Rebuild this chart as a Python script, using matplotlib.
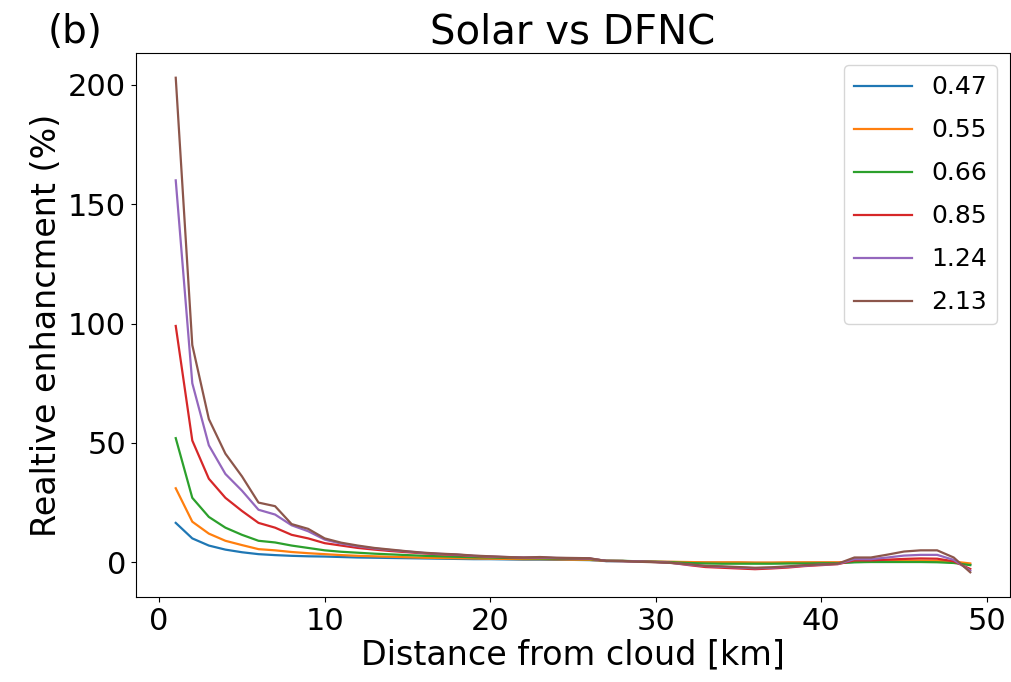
import numpy as np
import matplotlib
matplotlib.use("Agg")
import matplotlib.pyplot as plt

# distance from cloud [km]
distance = np.arange(1, 50)

wavelengths = ["0.47", "0.55", "0.66", "0.85", "1.24", "2.13"]

enh_047 = [16.5, 10, 7, 5.3, 4.2, 3.4, 3.0, 2.7, 2.5, 2.4,
           2.2, 2.0, 1.9, 1.8, 1.7, 1.6, 1.5, 1.4, 1.3, 1.3,
           1.2, 1.1, 1.1, 1.0, 1.0, 0.9, 0.5, 0.4, 0.3, 0.2,
           0.1, 0.0, -0.1, -0.2, -0.2, -0.3, -0.3, -0.3, -0.2, -0.2,
           -0.2, 0.1, 0.2, 0.3, 0.3, 0.4, 0.3, 0.0, -1.0]
enh_055 = [31, 17, 12, 9, 7.2, 5.5, 5.0, 4.3, 3.8, 3.4,
           3.0, 2.7, 2.5, 2.3, 2.1, 1.9, 1.8, 1.7, 1.6, 1.5,
           1.4, 1.3, 1.3, 1.2, 1.1, 1.0, 0.6, 0.5, 0.4, 0.3,
           0.2, 0.1, 0.0, 0.0, 0.0, -0.1, -0.1, 0.0, 0.0, 0.0,
           0.0, 0.3, 0.4, 0.5, 0.6, 0.7, 0.6, 0.3, -0.5]
enh_066 = [52, 27, 19, 14.5, 11.5, 9, 8.3, 7, 6, 5,
           4.4, 4.0, 3.6, 3.3, 3.0, 2.7, 2.5, 2.3, 2.1, 2.0,
           1.8, 1.7, 1.6, 1.5, 1.4, 1.3, 0.7, 0.6, 0.4, 0.2,
           0.0, -0.3, -0.5, -0.6, -0.6, -0.6, -0.6, -0.5, -0.5, -0.4,
           -0.4, 0.0, 0.1, 0.1, 0.1, 0.1, 0.0, -0.3, -1.2]
enh_085 = [99, 51, 35, 27, 21.5, 16.5, 14.5, 11.5, 10, 8,
           7, 6, 5.3, 4.7, 4.2, 3.7, 3.3, 3.0, 2.6, 2.3,
           2.1, 1.9, 1.9, 1.7, 1.6, 1.5, 0.6, 0.5, 0.3, 0.1,
           -0.3, -1.2, -2.0, -2.3, -2.6, -2.9, -2.6, -2.2, -1.6, -1.2,
           -0.8, 0.8, 0.8, 1.1, 1.4, 1.6, 1.5, 0.4, -2.8]
enh_124 = [160, 75, 49, 37, 30, 22, 20, 15.5, 13, 9.5,
           7.8, 6.7, 5.8, 5.1, 4.5, 3.9, 3.5, 3.2, 2.7, 2.4,
           2.2, 2.0, 2.0, 1.8, 1.7, 1.6, 0.6, 0.5, 0.3, 0.1,
           -0.3, -1.0, -1.6, -1.9, -2.2, -2.5, -2.3, -1.9, -1.4, -1.0,
           -0.7, 1.3, 1.3, 2.0, 2.8, 3.1, 3.1, 1.0, -3.5]
enh_213 = [203, 91, 60, 45.5, 36, 25, 23.5, 16, 14, 10,
           8.2, 7, 6, 5.3, 4.6, 4.0, 3.6, 3.3, 2.8, 2.5,
           2.2, 2.0, 2.2, 1.9, 1.8, 1.7, 0.5, 0.6, 0.2, 0.0,
           -0.3, -0.8, -1.5, -1.7, -2.0, -2.3, -2.1, -1.7, -1.2, -0.9,
           -0.6, 2.0, 2.0, 3.2, 4.5, 5.0, 5.0, 2.0, -4.2]

series = [enh_047, enh_055, enh_066, enh_085, enh_124, enh_213]

fig = plt.figure(figsize=(10.12, 6.82), dpi=100)
ax = fig.add_axes([0.1344, 0.1246, 0.8636, 0.7977])

for label, vals in zip(wavelengths, series):
    ax.plot(distance, vals, label=label, linewidth=1.6)

ax.set_title("Solar vs DFNC", fontsize=29)
ax.set_xlabel("Distance from cloud [km]", fontsize=24, labelpad=2)
ax.set_ylabel("Realtive enhancment (%)", fontsize=24)
ax.tick_params(labelsize=22)
ax.set_xticks([0, 10, 20, 30, 40, 50])
ax.set_yticks([0, 50, 100, 150, 200])
ax.legend(loc="upper right", fontsize=18, labelspacing=0.76, handlelength=2.3)

fig.text(0.047, 0.981, "(b)", fontsize=28, va="top", ha="left")

fig.savefig("out.png", dpi=100)
